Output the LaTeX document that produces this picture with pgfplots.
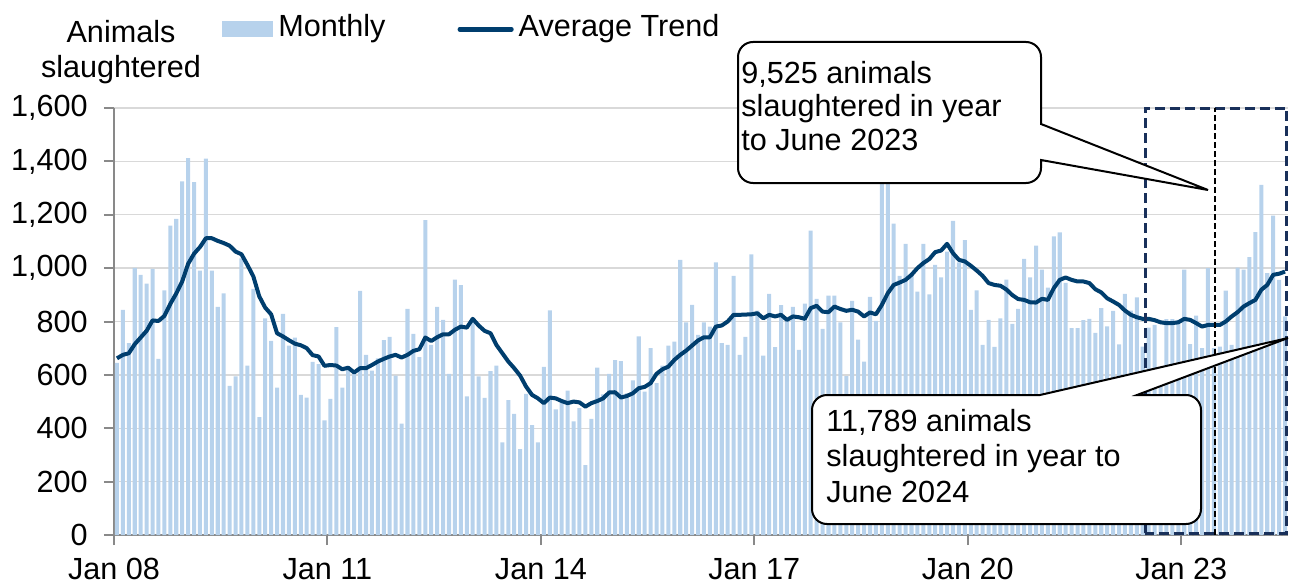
\documentclass[border=0pt]{standalone}
\usepackage{pgfplots}
\usepackage{pgfplotstable}
\pgfplotsset{compat=1.18}
\usepackage{fontspec}
\setmainfont{Liberation Sans}
\definecolor{barblue}{RGB}{183,210,236}
\definecolor{trend}{RGB}{0,62,110}
\definecolor{boxnavy}{RGB}{25,48,90}
\definecolor{gridgray}{RGB}{217,217,217}
\definecolor{axisgray}{RGB}{137,137,137}
\pgfplotstableread{
x m t
0.5 645 662
1.5 844 675
2.5 719 681
3.5 1001 715
4.5 975 740
5.5 942 765
6.5 997 804
7.5 660 802
8.5 917 821
9.5 1159 866
10.5 1185 905
11.5 1325 950
12.5 1412 1016
13.5 1322 1054
14.5 991 1079
15.5 1410 1112
16.5 991 1112
17.5 855 1102
18.5 905 1094
19.5 559 1084
20.5 594 1062
21.5 1037 1052
22.5 635 1012
23.5 922 969
24.5 442 894
25.5 812 852
26.5 727 827
27.5 552 756
28.5 829 744
29.5 710 730
30.5 740 717
31.5 525 711
32.5 515 700
33.5 649 674
34.5 640 669
35.5 430 634
36.5 510 637
37.5 779 635
38.5 552 621
39.5 621 627
40.5 606 609
41.5 915 625
42.5 675 625
43.5 616 637
44.5 662 650
45.5 730 660
46.5 742 669
47.5 597 675
48.5 417 665
49.5 847 675
50.5 754 690
51.5 667 696
52.5 1180 740
53.5 712 727
54.5 855 741
55.5 806 752
56.5 604 752
57.5 957 769
58.5 936 781
59.5 519 777
60.5 812 810
61.5 594 785
62.5 514 765
63.5 614 756
64.5 635 712
65.5 347 681
66.5 505 650
67.5 454 625
68.5 322 597
69.5 529 556
70.5 412 525
71.5 347 512
72.5 630 494
73.5 842 515
74.5 471 512
75.5 496 502
76.5 541 494
77.5 426 500
78.5 475 497
79.5 262 481
80.5 435 494
81.5 627 502
82.5 527 512
83.5 604 534
84.5 655 535
85.5 652 515
86.5 531 521
87.5 579 531
88.5 744 550
89.5 537 555
90.5 700 569
91.5 569 604
92.5 635 621
93.5 710 631
94.5 725 656
95.5 1031 675
96.5 797 691
97.5 862 710
98.5 750 729
99.5 797 741
100.5 781 741
101.5 1022 781
102.5 719 785
103.5 712 800
104.5 971 825
105.5 675 825
106.5 742 826
107.5 1052 827
108.5 841 831
109.5 672 812
110.5 904 825
111.5 704 819
112.5 861 825
113.5 806 806
114.5 855 819
115.5 694 816
116.5 867 810
117.5 1141 850
118.5 885 859
119.5 772 837
120.5 897 835
121.5 897 856
122.5 797 847
123.5 595 840
124.5 877 844
125.5 732 837
126.5 650 819
127.5 892 834
128.5 802 827
129.5 1470 862
130.5 1417 906
131.5 1167 937
132.5 971 946
133.5 1091 956
134.5 975 975
135.5 912 1000
136.5 1091 1019
137.5 902 1034
138.5 1012 1060
139.5 965 1066
140.5 1062 1091
141.5 1177 1056
142.5 1022 1031
143.5 1105 1025
144.5 844 1009
145.5 917 991
146.5 712 971
147.5 806 944
148.5 705 937
149.5 812 934
150.5 957 920
151.5 791 899
152.5 847 884
153.5 1035 881
154.5 965 872
155.5 1084 871
156.5 994 885
157.5 927 881
158.5 1119 925
159.5 1134 956
160.5 945 965
161.5 775 956
162.5 775 950
163.5 805 950
164.5 810 944
165.5 757 921
166.5 850 909
167.5 782 887
168.5 840 875
169.5 714 862
170.5 904 841
171.5 841 825
172.5 890 816
173.5 706 810
174.5 777 810
175.5 787 805
176.5 619 797
177.5 809 794
178.5 809 794
179.5 806 797
180.5 994 810
181.5 715 806
182.5 822 794
183.5 700 781
184.5 1000 787
185.5 700 787
186.5 706 787
187.5 916 800
188.5 712 819
189.5 1002 835
190.5 994 856
191.5 1041 869
192.5 1135 881
193.5 1312 919
194.5 981 937
195.5 1197 975
196.5 956 979
197.5 819 987
}\data
\begin{document}
\fontsize{15.3}{17}\selectfont
\begin{tikzpicture}
\begin{axis}[
  at={(57pt,25pt)}, anchor=south west,
  scale only axis, width=587pt, height=213.5pt,
  xmin=0, xmax=198, ymin=0, ymax=1600,
  axis lines=left,
  axis line style={-, draw=axisgray, line width=1pt},
  tick align=outside,
  major tick length=5pt,
  tick style={draw=axisgray, line width=1pt},
  ytick={0,200,...,1600},
  xtick={0,36,72,108,144,180},
  xticklabels={Jan 08,Jan 11,Jan 14,Jan 17,Jan 20,Jan 23},
  ymajorgrids,
  grid style={draw=gridgray, line width=0.7pt},
  /pgf/number format/assume math mode=true,
  /pgf/number format/1000 sep={,},
  yticklabel style={anchor=east, inner sep=0pt, xshift=-8pt},
  xticklabel style={anchor=base, inner sep=0pt, yshift=-17pt},
  clip=false,
  legend columns=2,
  legend style={draw=none, fill=none, at={(0.092,1.1871)}, anchor=west,
    inner sep=0pt, nodes={inner sep=0pt, anchor=base west},
    /tikz/every odd column/.append style={column sep=2.5pt},
    /tikz/every even column/.append style={column sep=36pt}},
]
\addplot[ybar, bar width=0.68, fill=barblue, draw=none,
  legend image code/.code={\fill[barblue] (0pt,0pt) rectangle (25.5pt,8pt);}]
  table[x=x, y=m] {\data};
\addlegendentry{Monthly}
\addplot[trend, line width=2pt, line join=round, no marks,
  legend image code/.code={\draw[trend, line width=2.3pt, line cap=round] (0.6pt,3.85pt) -- (26.4pt,3.85pt);}]
  table[x=x, y=t] {\data};
\addlegendentry{Average Trend}
\draw[boxnavy, line width=1.5pt, dash pattern=on 5pt off 2.5pt] (axis cs:173.9,7) rectangle (axis cs:197.8,1600);
\draw[black, line width=1pt, dash pattern=on 3pt off 1.5pt] (axis cs:185.7,0) -- (axis cs:185.7,1600);
\end{axis}
% y axis title
\node[anchor=base, inner sep=0pt] at (60.5pt,271pt) {Animals};
\node[anchor=base, inner sep=0pt] at (60.5pt,253.5pt) {slaughtered};
% callout 1
\draw[line width=1pt, fill=white, rounded corners=7.5pt]
  (445pt,271.5pt) -- (520.5pt,271.5pt) -- (520.5pt,240pt) [sharp corners] -- (520.5pt,230.5pt)
  -- (604pt,197.5pt) -- (520.5pt,212.5pt) [rounded corners=7.5pt] -- (520.5pt,201pt)
  -- (369pt,201pt) -- (369pt,271.5pt) -- cycle;
\node[anchor=base west, inner sep=0pt] at (370.5pt,250.5pt) {9,525 animals};
\node[anchor=base west, inner sep=0pt] at (370.5pt,234pt) {slaughtered in year};
\node[anchor=base west, inner sep=0pt] at (370.5pt,217.5pt) {to June 2023};
% callout 2
\draw[line width=1pt, fill=white, rounded corners=7.5pt]
  (406pt,60pt) -- (406pt,95pt) -- (510pt,95pt) [sharp corners] -- (520pt,95pt)
  -- (644pt,123.5pt) -- (568.5pt,95pt) [rounded corners=7.5pt] -- (600.5pt,95pt)
  -- (600.5pt,30.5pt) -- (406pt,30.5pt) -- cycle;
\node[anchor=base west, inner sep=0pt] at (413pt,77pt) {11,789 animals};
\node[anchor=base west, inner sep=0pt] at (413pt,59.5pt) {slaughtered in year to};
\node[anchor=base west, inner sep=0pt] at (413pt,41.5pt) {June 2024};
\pgfresetboundingbox
\useasboundingbox (0pt,0pt) rectangle (645pt,292.5pt);
\end{tikzpicture}
\end{document}
